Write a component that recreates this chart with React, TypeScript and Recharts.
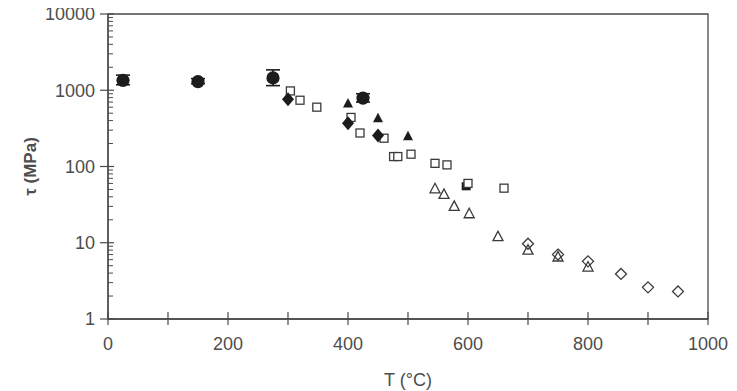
import React from 'react';
import { ScatterChart, Scatter, XAxis, YAxis, ErrorBar, ReferenceArea } from 'recharts';

// Shear stress τ (MPa) against temperature T (°C), one array pair per marker type
const circleT = [25, 150, 275, 425];
const circleTau = [1350, 1300, 1450, 790];
const circleLow = [1180, 1220, 1150, 700];
const circleHigh = [1580, 1420, 1850, 900];

const filledDiamondT = [300, 400, 450];
const filledDiamondTau = [760, 370, 255];

const filledTriangleT = [400, 450, 500];
const filledTriangleTau = [670, 430, 250];

const openSquareT = [304, 320, 348, 405, 420, 460, 476, 483, 505, 545, 565, 600, 660];
const openSquareTau = [980, 740, 600, 440, 275, 235, 135, 135, 145, 110, 105, 60, 52];

const filledSquareT = [597];
const filledSquareTau = [55];

const openTriangleT = [545, 560, 577, 602, 650, 700, 750, 800];
const openTriangleTau = [51, 43, 30, 24, 12, 8, 6.5, 4.8];

const openDiamondT = [700, 750, 800, 855, 900, 950];
const openDiamondTau = [9.7, 7, 5.7, 3.9, 2.6, 2.3];

const xTicks = [0, 100, 200, 300, 400, 500, 600, 700, 800, 900, 1000];
const xTickLabels = ['0', '', '200', '', '400', '', '600', '', '800', '', '1000'];
const yMajorTicks = [1, 10, 100, 1000, 10000];
const yMinorSteps = [2, 3, 4, 5, 6, 7, 8, 9];
const yAllTicks = [
  ...yMajorTicks,
  ...yMajorTicks.slice(0, -1).flatMap((d) => yMinorSteps.map((m) => d * m)),
];

const pairs = (ts: number[], vs: number[]) => ts.map((t, i) => ({ t, tau: vs[i] }));

const circleData = circleT.map((t, i) => ({
  t,
  tau: circleTau[i],
  err: [circleTau[i] - circleLow[i], circleHigh[i] - circleTau[i]],
}));

const INK = '#1c1c1c';
const LINE = '#4a4a4a';
const TEXT = '#4d4d4d';
const FONT = '"Liberation Sans", Arial, sans-serif';
const FONT_SIZE = 18;

const Y_TICK_SIZE = 8;
const Y_TICK_MARGIN = 5;
const X_TICK_SIZE = 6;
const X_TICK_MARGIN = 14;

const YTick = (props: any) => {
  const { x, y, payload } = props;
  const axisX = x + Y_TICK_SIZE + Y_TICK_MARGIN;
  const v = payload.value;
  if (!yMajorTicks.includes(v)) {
    return <line x1={axisX} x2={axisX + 5} y1={y} y2={y} stroke={LINE} strokeWidth={1} />;
  }
  return (
    <g>
      <line x1={axisX - 8} x2={axisX + 6} y1={y} y2={y} stroke={LINE} strokeWidth={1.2} />
      <text x={x} y={y} dy="0.36em" textAnchor="end" fill={TEXT} fontSize={FONT_SIZE} fontFamily={FONT}>
        {String(v)}
      </text>
    </g>
  );
};

const XTick = (props: any) => {
  const { x, y, index } = props;
  const axisY = y - X_TICK_SIZE - X_TICK_MARGIN;
  const label = xTickLabels[index] ?? '';
  return (
    <g>
      <line x1={x} x2={x} y1={axisY - 7} y2={axisY + 6} stroke={LINE} strokeWidth={1.2} />
      {label && (
        <text x={x} y={axisY + 18} dy="0.71em" textAnchor="middle" fill={TEXT} fontSize={FONT_SIZE} fontFamily={FONT}>
          {label}
        </text>
      )}
    </g>
  );
};

const FilledCircle = ({ cx, cy }: any) => <circle cx={cx} cy={cy} r={6.6} fill={INK} />;

const FilledDiamond = ({ cx, cy }: any) => (
  <polygon points={`${cx},${cy - 7} ${cx + 6},${cy} ${cx},${cy + 7} ${cx - 6},${cy}`} fill={INK} />
);

const FilledTriangle = ({ cx, cy }: any) => (
  <polygon points={`${cx},${cy - 5.5} ${cx + 5},${cy + 4} ${cx - 5},${cy + 4}`} fill={INK} />
);

const OpenSquare = ({ cx, cy }: any) => (
  <rect x={cx - 4} y={cy - 4} width={8} height={8} fill="#fff" stroke="#3a3a3a" strokeWidth={1.3} />
);

const FilledSquare = ({ cx, cy }: any) => (
  <rect x={cx - 4.5} y={cy - 4} width={9} height={8} fill={INK} />
);

const OpenTriangle = ({ cx, cy }: any) => (
  <polygon
    points={`${cx},${cy - 5.5} ${cx + 5},${cy + 4} ${cx - 5},${cy + 4}`}
    fill="none"
    stroke="#3a3a3a"
    strokeWidth={1.3}
  />
);

const OpenDiamond = ({ cx, cy }: any) => (
  <polygon
    points={`${cx},${cy - 5.5} ${cx + 5.5},${cy} ${cx},${cy + 5.5} ${cx - 5.5},${cy}`}
    fill="none"
    stroke="#3a3a3a"
    strokeWidth={1.3}
  />
);

const YLabel = (props: any) => {
  const vb = props.viewBox || {};
  const cx = vb.x + 22;
  const cy = vb.y + vb.height / 2;
  return (
    <text
      x={cx}
      y={cy}
      transform={`rotate(-90, ${cx}, ${cy})`}
      textAnchor="middle"
      dy="0.36em"
      fill={TEXT}
      fontSize={17}
      fontWeight="bold"
      fontFamily={FONT}
    >
      τ (MPa)
    </text>
  );
};

export default function App() {
  return (
    <div style={{ width: 729, height: 383, background: '#fff' }}>
      <style>{'.recharts-surface { overflow: visible; }'}</style>
      <ScatterChart width={729} height={383} margin={{ top: 6, right: 29, left: 0, bottom: 0 }}>
        <XAxis
          dataKey="t"
          type="number"
          domain={[0, 1000]}
          ticks={xTicks}
          interval={0}
          height={72}
          tickSize={X_TICK_SIZE}
          tickMargin={X_TICK_MARGIN}
          tickLine={false}
          axisLine={{ stroke: LINE, strokeWidth: 1.3 }}
          tick={<XTick />}
          label={{
            value: 'T (°C)',
            position: 'insideBottom',
            offset: 5,
            fill: TEXT,
            fontSize: FONT_SIZE,
            fontFamily: FONT,
          }}
        />
        <YAxis
          dataKey="tau"
          type="number"
          scale="log"
          domain={[1, 10000]}
          allowDataOverflow
          ticks={yAllTicks}
          interval={0}
          width={100}
          tickSize={Y_TICK_SIZE}
          tickMargin={Y_TICK_MARGIN}
          tickLine={false}
          axisLine={{ stroke: LINE, strokeWidth: 1.3 }}
          tick={<YTick />}
          label={<YLabel />}
        />
        <ReferenceArea x1={0} x2={1000} y1={1} y2={10000} fill="none" stroke={LINE} strokeWidth={1.3} strokeOpacity={1} fillOpacity={0} />
        <Scatter data={pairs(filledSquareT, filledSquareTau)} shape={<FilledSquare />} isAnimationActive={false} />
        <Scatter data={pairs(openSquareT, openSquareTau)} shape={<OpenSquare />} isAnimationActive={false} />
        <Scatter data={pairs(openTriangleT, openTriangleTau)} shape={<OpenTriangle />} isAnimationActive={false} />
        <Scatter data={pairs(openDiamondT, openDiamondTau)} shape={<OpenDiamond />} isAnimationActive={false} />
        <Scatter data={pairs(filledTriangleT, filledTriangleTau)} shape={<FilledTriangle />} isAnimationActive={false} />
        <Scatter data={pairs(filledDiamondT, filledDiamondTau)} shape={<FilledDiamond />} isAnimationActive={false} />
        <Scatter data={circleData} shape={<FilledCircle />} isAnimationActive={false}>
          <ErrorBar dataKey="err" direction="y" width={7} stroke={INK} strokeWidth={1.6} />
        </Scatter>
      </ScatterChart>
    </div>
  );
}
